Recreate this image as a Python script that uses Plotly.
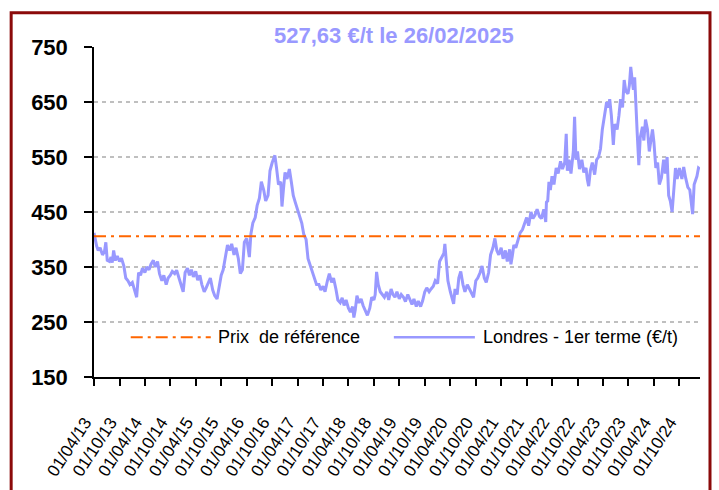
import plotly.graph_objects as go

# ---------------- data ----------------
dates = [
    "2013-04-01", "2013-04-10", "2013-04-20", "2013-05-01", "2013-05-15", "2013-06-01", "2013-06-15", "2013-06-25",
    "2013-07-05", "2013-07-20", "2013-08-01", "2013-08-10", "2013-08-20", "2013-09-01", "2013-09-15", "2013-10-01",
    "2013-10-15", "2013-11-01", "2013-11-15", "2013-12-01", "2013-12-15", "2014-01-01", "2014-01-15", "2014-02-01",
    "2014-02-15", "2014-03-01", "2014-03-15", "2014-04-01", "2014-04-15", "2014-05-01", "2014-05-15", "2014-06-01",
    "2014-06-15", "2014-07-01", "2014-07-15", "2014-08-01", "2014-08-15", "2014-09-01", "2014-09-15", "2014-10-01",
    "2014-10-15", "2014-11-01", "2014-11-15", "2014-12-01", "2014-12-15", "2015-01-01", "2015-01-15", "2015-02-01",
    "2015-02-15", "2015-03-01", "2015-03-15", "2015-04-01", "2015-04-15", "2015-05-01", "2015-05-15", "2015-06-01",
    "2015-06-15", "2015-07-01", "2015-07-15", "2015-08-01", "2015-08-15", "2015-09-01", "2015-09-15", "2015-10-01",
    "2015-10-15", "2015-11-01", "2015-11-15", "2015-12-01", "2015-12-15", "2016-01-01", "2016-01-15", "2016-02-01",
    "2016-02-15", "2016-03-01", "2016-03-15", "2016-04-01", "2016-04-10", "2016-04-20", "2016-05-01", "2016-05-15",
    "2016-06-01", "2016-06-15", "2016-07-01", "2016-07-15", "2016-08-01", "2016-08-15", "2016-09-01", "2016-09-15",
    "2016-10-01", "2016-10-20", "2016-11-01", "2016-11-15", "2016-12-01", "2016-12-10", "2016-12-20", "2017-01-01",
    "2017-01-15", "2017-02-01", "2017-02-15", "2017-03-01", "2017-03-15", "2017-04-01", "2017-04-15", "2017-05-01",
    "2017-05-15", "2017-06-01", "2017-06-15", "2017-07-01", "2017-07-15", "2017-08-01", "2017-08-15", "2017-09-01",
    "2017-09-15", "2017-10-01", "2017-10-15", "2017-11-01", "2017-11-15", "2017-12-01", "2017-12-15", "2018-01-01",
    "2018-01-15", "2018-02-01", "2018-02-15", "2018-03-01", "2018-03-15", "2018-04-01", "2018-04-15", "2018-05-01",
    "2018-05-10", "2018-05-20", "2018-06-01", "2018-06-15", "2018-07-01", "2018-07-15", "2018-08-01", "2018-08-15",
    "2018-09-01", "2018-09-15", "2018-10-01", "2018-10-10", "2018-10-20", "2018-11-01", "2018-11-15", "2018-12-01",
    "2018-12-15", "2019-01-01", "2019-01-15", "2019-02-01", "2019-02-15", "2019-03-01", "2019-03-15", "2019-04-01",
    "2019-04-15", "2019-05-01", "2019-05-15", "2019-06-01", "2019-06-15", "2019-07-01", "2019-07-15", "2019-08-01",
    "2019-08-15", "2019-09-01", "2019-09-15", "2019-10-01", "2019-10-15", "2019-11-01", "2019-11-15", "2019-12-01",
    "2019-12-15", "2020-01-01", "2020-01-15", "2020-02-01", "2020-02-15", "2020-02-22", "2020-03-05", "2020-03-15",
    "2020-04-01", "2020-04-15", "2020-04-25", "2020-05-05", "2020-05-20", "2020-06-01", "2020-06-15", "2020-07-01",
    "2020-07-15", "2020-08-01", "2020-08-15", "2020-09-01", "2020-09-15", "2020-10-01", "2020-10-15", "2020-11-01",
    "2020-11-15", "2020-12-01", "2020-12-15", "2021-01-01", "2021-01-15", "2021-02-01", "2021-02-15", "2021-03-01",
    "2021-03-15", "2021-04-01", "2021-04-15", "2021-05-01", "2021-05-15", "2021-06-01", "2021-06-10", "2021-06-20",
    "2021-07-01", "2021-07-15", "2021-08-01", "2021-08-15", "2021-09-01", "2021-09-15", "2021-10-01", "2021-10-15",
    "2021-11-01", "2021-11-15", "2021-12-01", "2021-12-15", "2022-01-01", "2022-01-15", "2022-02-01", "2022-02-15",
    "2022-02-20", "2022-03-01", "2022-03-10", "2022-03-20", "2022-04-01", "2022-04-15", "2022-05-01", "2022-05-15",
    "2022-06-01", "2022-06-15", "2022-07-01", "2022-07-12", "2022-07-20", "2022-08-01", "2022-08-15", "2022-09-01",
    "2022-09-10", "2022-09-20", "2022-10-01", "2022-10-15", "2022-11-01", "2022-11-15", "2022-12-01", "2022-12-10",
    "2022-12-20", "2023-01-01", "2023-01-15", "2023-02-01", "2023-02-15", "2023-03-01", "2023-03-15", "2023-03-28",
    "2023-04-10", "2023-04-28", "2023-05-10", "2023-05-20", "2023-06-01", "2023-06-15", "2023-06-25", "2023-07-12",
    "2023-07-25", "2023-08-06", "2023-08-20", "2023-09-01", "2023-09-12", "2023-09-28", "2023-10-08", "2023-10-18",
    "2023-10-28", "2023-11-06", "2023-11-15", "2023-11-21", "2023-12-04", "2023-12-15", "2023-12-25", "2024-01-10",
    "2024-01-20", "2024-02-01", "2024-02-15", "2024-02-28", "2024-03-10", "2024-03-22", "2024-04-01", "2024-04-15",
    "2024-04-28", "2024-05-10", "2024-05-25", "2024-06-10", "2024-06-22", "2024-07-05", "2024-07-16", "2024-07-28",
    "2024-08-10", "2024-08-22", "2024-09-03", "2024-09-15", "2024-10-01", "2024-10-19", "2024-11-01", "2024-11-15",
    "2024-12-01", "2024-12-15", "2025-01-04", "2025-01-15", "2025-02-04", "2025-02-15", "2025-02-26",
]
prices = [
    412, 398, 388, 380, 385, 372, 378, 395,
    362, 360, 368, 358, 380, 362, 370, 360,
    366, 352, 330, 325, 318, 322, 308, 295,
    340, 335, 348, 340, 350, 345, 355, 362,
    350, 360, 338, 325, 335, 318, 330, 335,
    342, 338, 344, 332, 318, 305, 340, 348,
    335, 345, 332, 342, 326, 335, 318, 305,
    312, 322, 330, 308, 298, 292, 310, 335,
    345, 372, 390, 380, 392, 372, 385, 365,
    338, 345, 395, 402, 380, 368, 410, 430,
    440, 462, 475, 505, 490, 470, 480, 525,
    540, 553, 530, 500, 505, 460, 490, 522,
    510, 528, 505, 480, 468, 455, 440, 430,
    410, 400, 365, 352, 340, 330, 318, 318,
    308, 315, 305, 325, 338, 322, 330, 310,
    290, 285, 294, 280, 290, 275, 268, 278,
    258, 272, 298, 285, 292, 280, 270, 262,
    275, 295, 290, 300, 341, 318, 305, 300,
    295, 305, 290, 310, 300, 295, 305, 292,
    300, 295, 287, 300, 290, 282, 292, 278,
    288, 278, 288, 305, 312, 305, 310, 315,
    325, 320, 360, 368, 375, 392, 355, 325,
    305, 290, 283, 310, 300, 330, 342, 318,
    305, 318, 310, 302, 295, 325, 330, 340,
    352, 330, 322, 340, 372, 385, 402, 380,
    372, 385, 365, 380, 360, 382, 355, 370,
    390, 385, 400, 412, 418, 430, 440, 425,
    450, 438, 445, 455, 442, 438, 455, 432,
    468, 470, 505, 490, 515, 500, 530, 520,
    542, 528, 540, 592, 525, 545, 520, 560,
    623, 545, 560, 528, 545, 522, 530, 510,
    497, 525, 540, 518, 545, 550, 565, 600,
    620, 650, 640, 655, 625, 572, 610, 600,
    625, 655, 640, 690, 670, 665, 680, 714,
    690, 672, 695, 655, 590, 535, 585, 605,
    580, 618, 600, 560, 580, 600, 578, 530,
    540, 500, 512, 545, 520, 550, 480, 470,
    450, 495, 530, 510, 530, 510, 532, 512,
    495, 490, 446, 500, 515, 530, 527.63,
]
ref_price = 406
ref_dates = ["2013-04-01", "2025-02-26"]

tick_dates = [
    "2013-04-01", "2013-10-01", "2014-04-01", "2014-10-01", "2015-04-01", "2015-10-01",
    "2016-04-01", "2016-10-01", "2017-04-01", "2017-10-01", "2018-04-01", "2018-10-01",
    "2019-04-01", "2019-10-01", "2020-04-01", "2020-10-01", "2021-04-01", "2021-10-01",
    "2022-04-01", "2022-10-01", "2023-04-01", "2023-10-01", "2024-04-01", "2024-10-01",
]
tick_labels = [
    "01/04/13", "01/10/13", "01/04/14", "01/10/14", "01/04/15", "01/10/15",
    "01/04/16", "01/10/16", "01/04/17", "01/10/17", "01/04/18", "01/10/18",
    "01/04/19", "01/10/19", "01/04/20", "01/10/20", "01/04/21", "01/10/21",
    "01/04/22", "01/10/22", "01/04/23", "01/10/23", "01/04/24", "01/10/24",
]
y_ticks = [150, 250, 350, 450, 550, 650, 750]
title_text = "527,63 €/t le 26/02/2025"
legend_labels = ["Prix\u00a0 de référence", "Londres - 1er terme (€/t)"]

# ---------------- styling ----------------
FONT = "Liberation Sans, Arial, sans-serif"
PURPLE = "#9999FF"
ORANGE = "#FF6600"
BORDER = "#8B0A0A"
DASHDOT = "12px,5px,3px,5px"

fig = go.Figure()
fig.add_trace(go.Scatter(x=dates, y=prices, mode="lines",
                         line=dict(color=PURPLE, width=3), name=legend_labels[1],
                         showlegend=False, hoverinfo="x+y"))
fig.add_trace(go.Scatter(x=ref_dates, y=[ref_price, ref_price], mode="lines",
                         line=dict(color=ORANGE, width=2, dash=DASHDOT), name=legend_labels[0],
                         showlegend=False))

fig.update_layout(
    width=719, height=490, autosize=False,
    margin=dict(l=94, r=19, t=47, b=113),
    paper_bgcolor="white", plot_bgcolor="white",
    font=dict(family=FONT, color="black"),
    showlegend=False,
)
fig.update_xaxes(
    type="date", range=["2013-04-01", "2025-02-26"],
    tickmode="array", tickvals=tick_dates, ticktext=tick_labels,
    tickangle=-57, tickfont=dict(family=FONT, size=17, color="black"),
    ticks="outside", ticklen=7, tickwidth=1.5, tickcolor="black",
    showline=True, linecolor="black", linewidth=1.5,
    showgrid=False, zeroline=False, automargin=False,
    ticklabelstandoff=20, ticklabelshift=-9,
)
fig.update_yaxes(
    range=[150, 750], tickmode="array", tickvals=y_ticks,
    tickfont=dict(family=FONT, size=22, color="black", weight="bold"),
    ticks="outside", ticklen=8, tickwidth=1.5, tickcolor="black",
    showline=True, linecolor="black", linewidth=1.5,
    showgrid=True, gridcolor="#BFBFBF", gridwidth=1.5, griddash="4px,4px",
    zeroline=False, automargin=False, ticklabelstandoff=12,
)

# title
fig.add_annotation(x=0.4956, y=1.035, xref="paper", yref="paper", showarrow=False,
                   xanchor="center", yanchor="middle", text=title_text,
                   font=dict(family=FONT, size=22, color=PURPLE, weight="bold"))

# manual legend inside the plot
leg_y = 0.1203
fig.add_shape(type="line", xref="paper", yref="paper", x0=0.0606, x1=0.1927, y0=leg_y, y1=leg_y,
              line=dict(color=ORANGE, width=2, dash=DASHDOT))
fig.add_shape(type="line", xref="paper", yref="paper", x0=0.4948, x1=0.6285, y0=leg_y, y1=leg_y,
              line=dict(color=PURPLE, width=2.5))
fig.add_annotation(x=0.2006, y=leg_y, xref="paper", yref="paper", showarrow=False,
                   xanchor="left", yanchor="middle", text=legend_labels[0],
                   font=dict(family=FONT, size=18, color="black"))
fig.add_annotation(x=0.6384, y=leg_y, xref="paper", yref="paper", showarrow=False,
                   xanchor="left", yanchor="middle", text=legend_labels[1],
                   font=dict(family=FONT, size=18, color="black"))

# outer dark-red frame
fig.add_shape(type="rect", xref="paper", yref="paper", x0=-0.1367, x1=1.0165, y0=-0.6, y1=1.1036,
              line=dict(color=BORDER, width=3), fillcolor="rgba(0,0,0,0)", layer="above")

fig.write_html(
    "out.html",
    config={"displayModeBar": False},
    post_script="document.body.style.margin='0px'; document.documentElement.style.overflow='hidden';",
)
